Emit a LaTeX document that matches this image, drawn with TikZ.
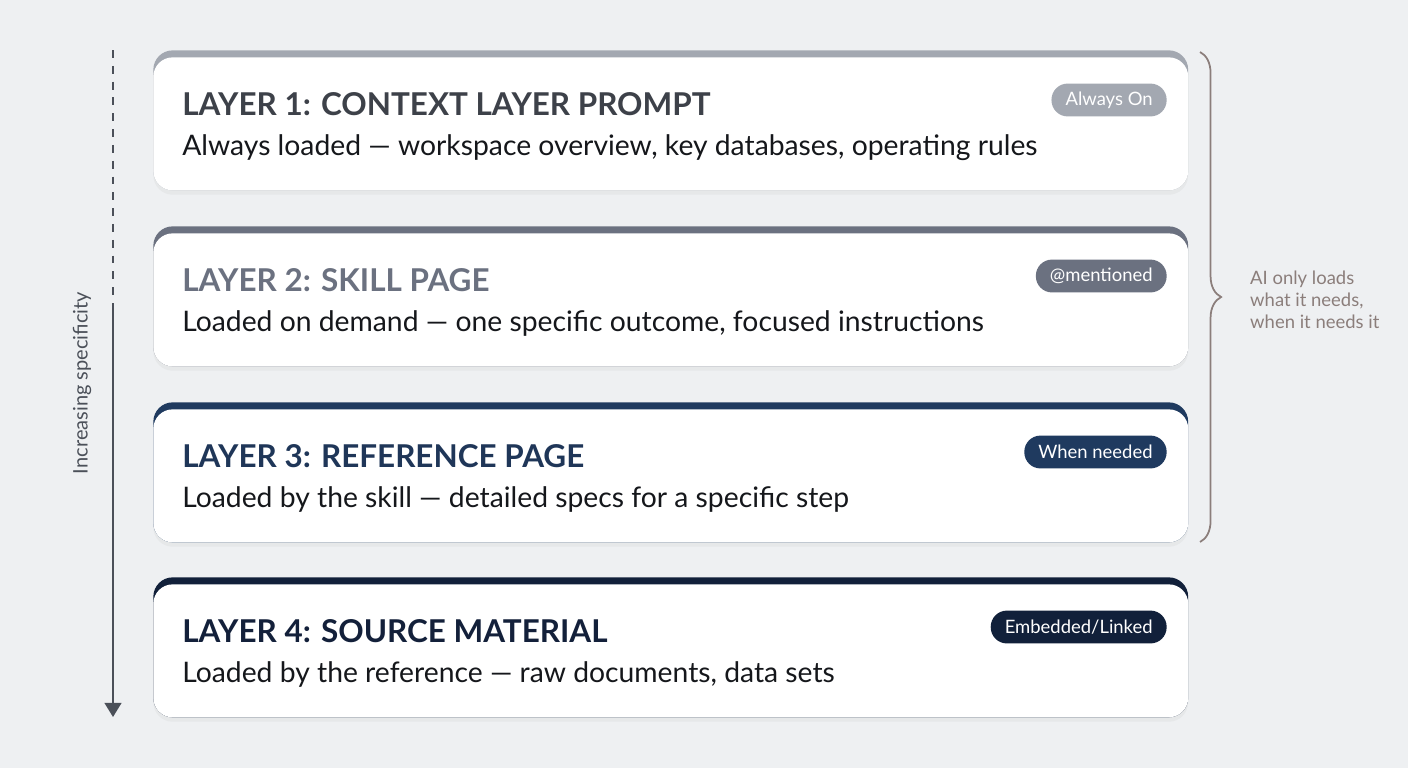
\documentclass[tikz,border=0pt]{standalone}
\usepackage{fontspec}
\setmainfont{Lato}
\usetikzlibrary{arrows.meta,decorations.pathreplacing,shadows}

\definecolor{pagebg}{HTML}{EEF0F2}
\definecolor{ink}{HTML}{15171B}
\definecolor{stripA}{HTML}{A3A8B1}
\definecolor{stripB}{HTML}{6B7180}
\definecolor{stripC}{HTML}{1F3A5F}
\definecolor{stripD}{HTML}{11203A}
\definecolor{titleA}{HTML}{3D4149}
\definecolor{titleB}{HTML}{6B7180}
\definecolor{titleC}{HTML}{1F3658}
\definecolor{titleD}{HTML}{13203A}
\definecolor{axisgray}{HTML}{4B5059}
\definecolor{bracebrown}{HTML}{8B7E7B}

\tikzset{
    layer strip/.style={rounded corners=11pt, minimum width=20.7cm, minimum height=2.8cm, inner sep=0pt, anchor=north west,
        drop shadow={shadow xshift=0pt, shadow yshift=-2.5pt, opacity=0.07}},
    layer card/.style={fill=white, rounded corners=11pt, minimum width=20.7cm, minimum height=2.66cm, inner sep=0pt, anchor=north west},
    layer title/.style={anchor=base west, inner sep=0pt, font=\fontsize{17.9}{20}\selectfont\bfseries},
    layer text/.style={anchor=base west, inner sep=0pt, text=ink, font=\fontsize{16.1}{18}\selectfont},
    badge/.style={anchor=east, rounded corners=9.2pt, minimum height=18.7pt, inner xsep=8pt, inner ysep=0pt, text=white, font=\fontsize{10.5}{12}\selectfont},
}

\begin{document}
\begin{tikzpicture}[x=0.02cm, y=-0.02cm]
    \useasboundingbox (0,0) rectangle (1408,768);
    \fill[pagebg] (0,0) rectangle (1408,768); % background

    % layer 1
    \node[layer strip, fill=stripA] (strip1) at (153,50) {};
    \node[layer card] (card1) at (153,57) {};
    \node[layer title, text=titleA] (title1) at (182,115) {LAYER 1: CONTEXT LAYER PROMPT};
    \node[layer text] (text1) at (182,155) {Always loaded — workspace overview, key databases, operating rules};
    \node[badge, fill=stripA] (badge1) at (1167,100) {Always On};

    % layer 2
    \node[layer strip, fill=stripB] (strip2) at (153,226) {};
    \node[layer card] (card2) at (153,233) {};
    \node[layer title, text=titleB] (title2) at (182,291) {LAYER 2: SKILL PAGE};
    \node[layer text] (text2) at (182,331) {Loaded on demand — one specific outcome, focused instructions};
    \node[badge, fill=stripB] (badge2) at (1167,276) {@mentioned};

    % layer 3
    \node[layer strip, fill=stripC] (strip3) at (153,402) {};
    \node[layer card] (card3) at (153,409) {};
    \node[layer title, text=titleC] (title3) at (182,467) {LAYER 3: REFERENCE PAGE};
    \node[layer text] (text3) at (182,507) {Loaded by the skill — detailed specs for a specific step};
    \node[badge, fill=stripC] (badge3) at (1167,452) {When needed};

    % layer 4
    \node[layer strip, fill=stripD] (strip4) at (153,577) {};
    \node[layer card] (card4) at (153,584) {};
    \node[layer title, text=titleD] (title4) at (182,642) {LAYER 4: SOURCE MATERIAL};
    \node[layer text] (text4) at (182,682) {Loaded by the reference — raw documents, data sets};
    \node[badge, fill=stripD] (badge4) at (1167,627) {Embedded/Linked};

    % specificity axis
    \coordinate (axis top) at (113,50);
    \coordinate (axis mid) at (113,310);
    \coordinate (axis end) at (113,717);
    \draw[axisgray, line width=1.1pt, dash pattern=on 4.5pt off 4.5pt] (axis top)--(axis mid);
    \draw[axisgray, line width=1.1pt, -{Triangle[width=9.5pt,length=8pt]}] (axis mid)--(axis end);
    \node[rotate=90, text=axisgray, font=\fontsize{11.4}{13}\selectfont] (axis label) at (82,383) {Increasing specificity};

    % brace over layers 1-3
    \coordinate (brace top) at (1200,52);
    \coordinate (brace end) at (1200,542);
    \draw[bracebrown, line width=1pt, decorate, decoration={brace, amplitude=12pt}] (brace top)--(brace end);
    \node[anchor=west, align=left, text=bracebrown, font=\fontsize{10.5}{12.5}\selectfont] (brace note) at (1244,300) {AI only loads\\what it needs,\\when it needs it};
\end{tikzpicture}
\end{document}
